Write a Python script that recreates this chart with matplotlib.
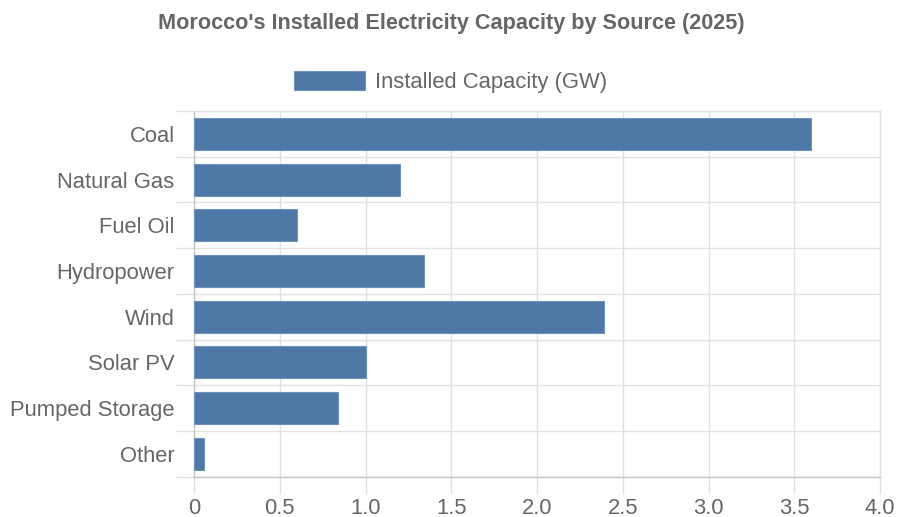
import numpy as np
import matplotlib
matplotlib.use("Agg")
import matplotlib.pyplot as plt

# data
sources = ["Coal", "Natural Gas", "Fuel Oil", "Hydropower", "Wind",
           "Solar PV", "Pumped Storage", "Other"]
capacity_gw = [3.60, 1.20, 0.60, 1.34, 2.39, 1.00, 0.84, 0.06]
series_label = "Installed Capacity (GW)"
title = "Morocco's Installed Electricity Capacity by Source (2025)"
x_ticks = [0, 0.5, 1.0, 1.5, 2.0, 2.5, 3.0, 3.5, 4.0]
x_tick_labels = ["0", "0.5", "1.0", "1.5", "2.0", "2.5", "3.0", "3.5", "4.0"]

plt.rcParams['font.family'] = ['Liberation Sans', 'DejaVu Sans']
text_col = '#666666'
grid_col = '#e1e1e1'
axis_col = '#c4c4c4'
bar_col = '#4e79a7'

fig = plt.figure(figsize=(8.97, 5.17), dpi=100)
ax = fig.add_axes([194/897, 1 - 476.7/517, (880 - 194)/897, (476.7 - 111)/517])

y = np.arange(len(sources))
ax.barh(y, capacity_gw, height=0.7, color=bar_col, edgecolor='#6f93bd',
        linewidth=0.8, label=series_label, zorder=3)

ax.set_xlim(0, 4.0)
ax.set_ylim(len(sources) - 0.5, -0.5)

# y: labels at categories, grid lines + ticks between categories
ax.set_yticks(y)
ax.set_yticklabels(sources)
ax.set_yticks(np.arange(-0.5, len(sources)), minor=True)
ax.tick_params(axis='y', which='major', length=0, pad=14, labelsize=15.8,
               labelcolor=text_col)
ax.tick_params(axis='y', which='minor', length=13, color=grid_col, width=1)
ax.grid(True, axis='y', which='minor', color=grid_col, linewidth=1, zorder=0)

ax.set_xticks(x_ticks)
ax.set_xticklabels(x_tick_labels)
ax.tick_params(axis='x', which='major', length=12, color=grid_col, width=1,
               pad=3, labelsize=15.8, labelcolor=text_col)
ax.grid(True, axis='x', which='major', color=grid_col, linewidth=1, zorder=0)

for side in ['top', 'right']:
    ax.spines[side].set_color(grid_col)
    ax.spines[side].set_linewidth(1)
for side in ['left', 'bottom']:
    ax.spines[side].set_color(axis_col)
    ax.spines[side].set_linewidth(1)

fig.text(0.503, 1 - 23/517, title, ha='center', va='center',
         fontsize=15.6, fontweight='bold', color=text_col)

fig.legend(loc='center', bbox_to_anchor=(0.502, 1 - 82/517), frameon=False,
           fontsize=15.8, labelcolor=text_col, handlelength=3.25,
           handleheight=0.95, handletextpad=0.45)

fig.savefig("out.png", dpi=100)
